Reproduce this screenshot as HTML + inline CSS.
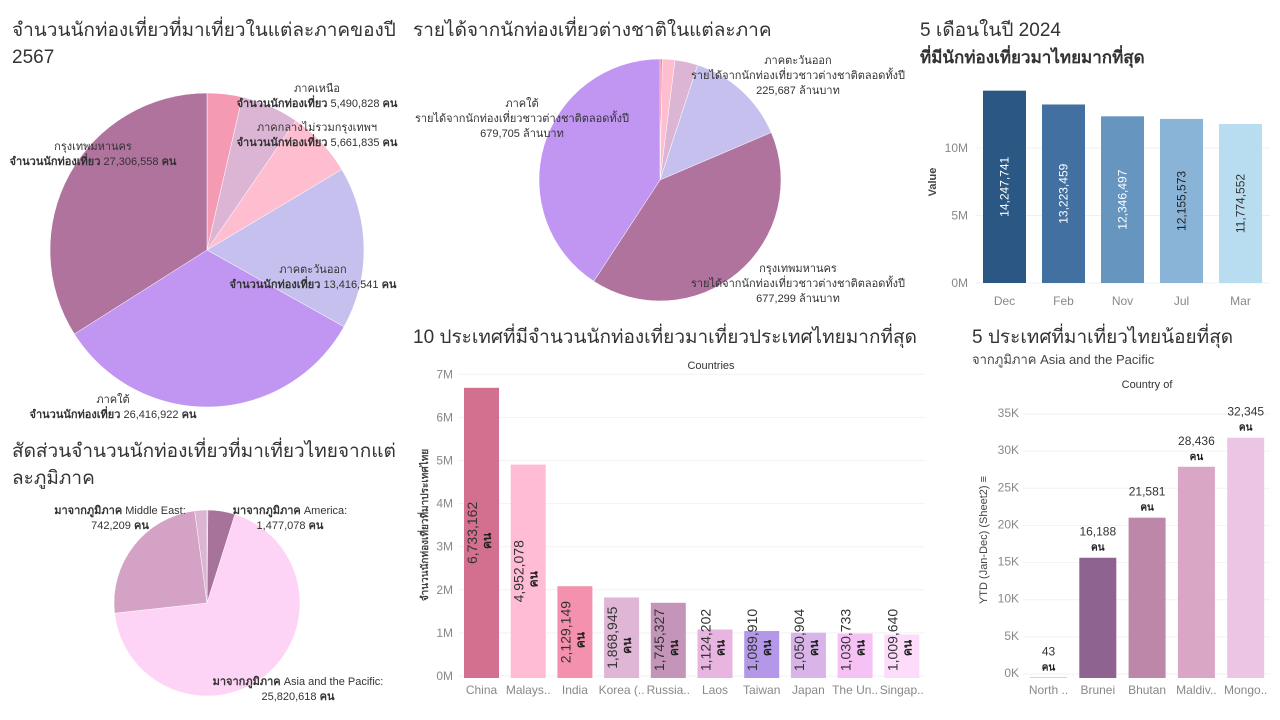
<!DOCTYPE html>
<html><head><meta charset="utf-8">
<style>
body{margin:0;background:#fff;}
svg{display:block;font-family:"Liberation Sans","Noto Sans CJK SC",sans-serif;}
.t{font-size:19px;fill:#333;}
.lb{font-size:11px;fill:#333;}
.tk{font-size:12px;fill:#888;}
</style></head>
<body>
<svg id="s" width="1280" height="720">
<text class="t" x="12" y="36">จำนวนนักท่องเที่ยวที่มาเที่ยวในแต่ละภาคของปี</text>
<text class="t" x="12" y="63">2567</text>
<text class="t" x="413" y="36">รายได้จากนักท่องเที่ยวต่างชาติในแต่ละภาค</text>
<text class="t" x="920" y="36">5 เดือนในปี 2024</text>
<text class="t" x="920" y="63" font-weight="bold" style="font-size:17px">ที่มีนักท่องเที่ยวมาไทยมากที่สุด</text>
<text class="t" x="413" y="343">10 ประเทศที่มีจำนวนนักท่องเที่ยวมาเที่ยวประเทศไทยมากที่สุด</text>
<text class="t" x="972" y="343">5 ประเทศที่มาเที่ยวไทยน้อยที่สุด</text>
<text x="972" y="364" style="font-size:13px;fill:#444">จากภูมิภาค Asia and the Pacific</text>
<text class="t" x="12" y="457">สัดส่วนจำนวนนักท่องเที่ยวที่มาเที่ยวไทยจากแต่</text>
<text class="t" x="12" y="484">ละภูมิภาค</text>
<g id="g"></g>
</svg>
<script>
// pie 1: regions visitors
const p1Names=['north','central','pink-region','east','south','bangkok'];
const p1Values=[2900000,4800000,5500000,13416541,26416922,27306558];
const p1Colors=['#f49ab3','#dcb5d5','#ffbdd0','#c6c0ee','#c195f2','#af739e'];
// pie 2: income (million baht)
const p2Names=['a','b','c','east','bangkok','south'];
const p2Values=[5000,28000,51000,225687,677299,679705];
const p2Colors=['#f47a9a','#ffbdd0','#dcb5d5','#c6c0ee','#af739e','#c195f2'];
// pie 3: continent share
const p3Names=['other','america','asia-pacific','middle-east','europe'];
const p3Values=[60000,1777078,25820618,9300000,800000];
const p3Colors=['#6b4a78','#a8739b','#fdd3f6','#d4a2c4','#dcb5d5'];
// months
const mCats=['Dec','Feb','Nov','Jul','Mar'];
const mVals=[14247741,13223459,12346497,12155573,11774552];
const mColors=['#2a5783','#4271a1','#6695c0','#89b4d8','#b8ddf1'];
const mText=['#fff','#fff','#fff','#222','#333'];
const mTicks=[0,5000000,10000000];
const mTickLabels=['0M','5M','10M'];
// top countries
const cCats=['China','Malays..','India','Korea (..','Russia..','Laos','Taiwan','Japan','The Un..','Singap..'];
const cVals=[6733162,4952078,2129149,1868945,1745327,1124202,1089910,1050904,1030733,1009640];
const cColors=['#d4708f','#ffbcd4','#f391ae','#dfb6d6','#c495b9','#e8b4e0','#b497e8','#d8b4e8','#f6c2f6','#fddcfb'];
const cTicks=[0,1e6,2e6,3e6,4e6,5e6,6e6,7e6];
const cTickLabels=['0M','1M','2M','3M','4M','5M','6M','7M'];
// least countries
const lCats=['North ..','Brunei','Bhutan','Maldiv..','Mongo..'];
const lVals=[43,16188,21581,28436,32345];
const lColors=['#8e6390','#8e6390','#bd87a9','#d9a6c6','#ecc5e4'];
const lTicks=[0,5000,10000,15000,20000,25000,30000,35000];
const lTickLabels=['0K','5K','10K','15K','20K','25K','30K','35K'];

const NS='http://www.w3.org/2000/svg';
const G=document.getElementById('g');
function el(t,a,txt,p){const e=document.createElementNS(NS,t);for(const k in a)e.setAttribute(k,a[k]);if(txt!==undefined)e.textContent=txt;(p||G).appendChild(e);return e;}
const fmt=v=>v.toLocaleString('en-US');

function pie(cx,cy,r,vals,cols,names,prefix){
  const tot=vals.reduce((a,b)=>a+b,0);let a0=0;
  vals.forEach((v,i)=>{const a1=a0+v/tot*2*Math.PI;
    const x0=cx+r*Math.sin(a0),y0=cy-r*Math.cos(a0),x1=cx+r*Math.sin(a1),y1=cy-r*Math.cos(a1);
    const large=(a1-a0)>Math.PI?1:0;
    const p=el('path',{d:`M${cx},${cy}L${x0},${y0}A${r},${r} 0 ${large} 1 ${x1},${y1}Z`,fill:cols[i],stroke:'#fff','stroke-width':0.5});
    
    
    a0=a1;});
}
pie(207,250,157,p1Values,p1Colors,p1Names,'region-pie');
pie(660,180,121,p2Values,p2Colors,p2Names,'income-pie');
pie(207,603,93,p3Values,p3Colors,p3Names,'continent-pie');

// line parts: string, or array of [text,bold] pairs
function lab(x,y,lines,name,anchor){
  const t=el('text',{x:x,y:y,'text-anchor':anchor||'middle',class:'lb'});
  
  
  lines.forEach((l,i)=>{const s=el('tspan',{x:x,dy:i?15:0},undefined,t);
    if(Array.isArray(l)){l.forEach(part=>{const a=el('tspan',{},part[0],s);if(part[1])a.setAttribute('font-weight','bold');});}
    else s.textContent=l;});
}
const W='จำนวนนักท่องเที่ยว ';
function vis(v){return [[W,1],[fmt(v)+' ',0],['คน',1]];}
lab(317,92,['ภาคเหนือ',vis(5490828)],'label-north');
lab(317,131,['ภาคกลางไม่รวมกรุงเทพฯ',vis(5661835)],'label-central');
lab(93,150,['กรุงเทพมหานคร',vis(p1Values[5])],'label-bangkok');
lab(313,273,['ภาคตะวันออก',vis(p1Values[3])],'label-east');
lab(113,403,['ภาคใต้',vis(p1Values[4])],'label-south');
const R='รายได้จากนักท่องเที่ยวชาวต่างชาติตลอดทั้งปี';
lab(798,64,['ภาคตะวันออก',R,fmt(p2Values[3])+' ล้านบาท'],'label-income-east');
lab(522,107,['ภาคใต้',R,fmt(p2Values[5])+' ล้านบาท'],'label-income-south');
lab(798,272,['กรุงเทพมหานคร',R,fmt(p2Values[4])+' ล้านบาท'],'label-income-bangkok');
const M='มาจากภูมิภาค ';
lab(120,514,[[[M,1],['Middle East:',0]],[[fmt(742209)+' ',0],['คน',1]]],'label-middle-east');
lab(290,514,[[[M,1],['America:',0]],[[fmt(1477078)+' ',0],['คน',1]]],'label-america');
lab(298,685,[[[M,1],['Asia and the Pacific:',0]],[[fmt(25820618)+' ',0],['คน',1]]],'label-asia-pacific');

// month bars
{const y0=283,k=135/10e6,x0=983,pitch=59,bw=43;
 mTicks.forEach((v,i)=>{const y=y0-v*k;el('line',{x1:975,x2:1270,y1:y,y2:y,stroke:'#f0f0f0'});
   const t=el('text',{x:968,y:y+4,'text-anchor':'end',class:'tk'},mTickLabels[i]);});
 const at=el('text',{transform:'translate(936,182) rotate(-90)','text-anchor':'middle','font-size':11,'font-weight':'bold',fill:'#444'},'Value');
 
 mVals.forEach((v,i)=>{const x=x0+i*pitch,h=v*k;
  const b=el('rect',{x:x,y:y0-h,width:bw,height:h,fill:mColors[i]});
  
  const cy=y0-h/2;
  const t=el('text',{transform:`translate(${x+bw/2+4},${cy}) rotate(-90)`,'text-anchor':'middle','font-size':12,fill:mText[i]},fmt(v));
  
  const c=el('text',{x:x+bw/2,y:305,'text-anchor':'middle',class:'tk'},mCats[i]);
  });
}
// countries bars
{const y0=678,k=43.1/1e6,x0=464,pitch=46.7,bw=35;
 cTicks.forEach((v,i)=>{const y=y0-v*k;el('line',{x1:458,x2:925,y1:y-2,y2:y-2,stroke:'#f2f2f2'});
   const t=el('text',{x:453,y:y+2,'text-anchor':'end',class:'tk'},cTickLabels[i]);});
 const h1=el('text',{x:711,y:369,'text-anchor':'middle','font-size':11,fill:'#333'},'Countries');
 const at=el('text',{transform:'translate(428,525) rotate(-90)','text-anchor':'middle','font-size':10,'font-weight':'bold',fill:'#444'},'จำนวนนักท่องเที่ยวที่มาประเทศไทย');
 
 cVals.forEach((v,i)=>{const x=x0+i*pitch,h=v*k;
  const b=el('rect',{x:x,y:y0-h,width:bw,height:h,fill:cColors[i]});
  
  const cy=Math.min(y0-h/2,y0-38);
  const t=el('text',{transform:`translate(${x+13},${cy}) rotate(-90)`,'text-anchor':'middle','font-size':14,fill:'#333'},fmt(v));
  
  const u=el('text',{transform:`translate(${x+27},${cy+8}) rotate(-90)`,'text-anchor':'middle','font-size':12,'font-weight':'bold',fill:'#222'},'คน');
  
  const c=el('text',{x:x+bw/2,y:694,'text-anchor':'middle',class:'tk'},cCats[i]);
  });
}
// least bars
{const y0=678,k=260/35000,x0=1030,pitch=49.3,bw=37;
 lTicks.forEach((v,i)=>{const y=y0-v*k;el('line',{x1:1023,x2:1270,y1:y-4,y2:y-4,stroke:'#f2f2f2'});
   const t=el('text',{x:1019,y:y-1,'text-anchor':'end',class:'tk'},lTickLabels[i]);});
 const h1=el('text',{x:1147,y:388,'text-anchor':'middle','font-size':11,fill:'#333'},'Country of');
 const at=el('text',{transform:'translate(987,540) rotate(-90)','text-anchor':'middle','font-size':11,fill:'#444'},'YTD (Jan-Dec) (Sheet2) ≡');
 
 lVals.forEach((v,i)=>{const x=x0+i*pitch,h=v*k;
  const b=el('rect',{x:x,y:y0-h,width:bw,height:h,fill:lColors[i]});
  
  const t=el('text',{x:x+bw/2,y:y0-h-22,'text-anchor':'middle','font-size':12,fill:'#333'},fmt(v));
  
  const u=el('text',{x:x+bw/2,y:y0-h-7,'text-anchor':'middle','font-size':10,'font-weight':'bold',fill:'#222'},'คน');
  
  const c=el('text',{x:x+bw/2,y:694,'text-anchor':'middle',class:'tk'},lCats[i]);
  });
}
</script>
</body></html>
